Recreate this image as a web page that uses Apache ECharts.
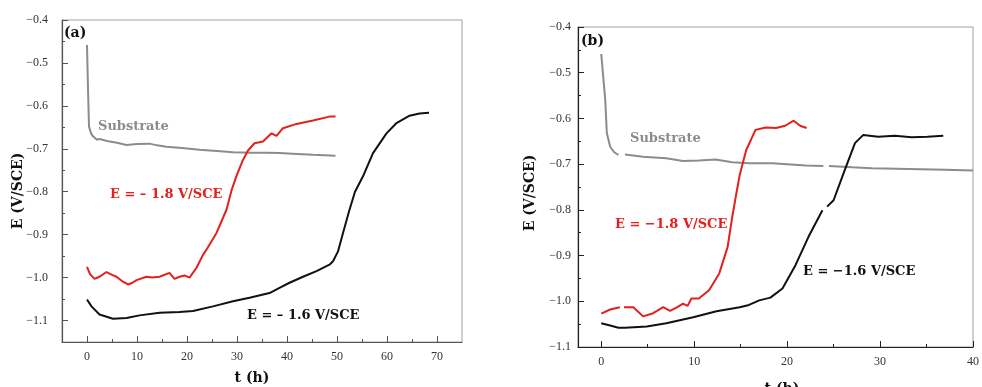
<!DOCTYPE html>
<html>
<head>
<meta charset="utf-8">
<script src="https://cdn.jsdelivr.net/npm/echarts@6/dist/echarts.min.js"></script>
<style>html,body{margin:0;padding:0;background:#fff;}#c{width:982px;height:387px;}</style>
</head>
<body>
<div id="c"></div>
<script>
// ---------- Panel (a) data: [t (h), E (V/SCE)] ----------
var subA = [[0,-0.458],[0.2,-0.56],[0.4,-0.648],[0.8,-0.664],[1.2,-0.671],[2,-0.679],[2.5,-0.677],[4,-0.682],[6,-0.686],[7.9,-0.691],[10,-0.689],[12.5,-0.688],[14,-0.692],[15.9,-0.695],[19,-0.698],[22.5,-0.702],[26,-0.705],[29.2,-0.708],[33,-0.709],[36,-0.709],[38.5,-0.710],[42,-0.712],[45.2,-0.714],[47.5,-0.715],[49.7,-0.716]];
var redA = [[0,-0.975],[0.6,-0.992],[1.5,-1.003],[2.5,-0.998],[3.9,-0.987],[4.9,-0.993],[5.9,-0.998],[7,-1.008],[8.2,-1.016],[9.1,-1.012],[9.9,-1.006],[11.9,-0.998],[13,-1.0],[14.5,-0.998],[16.5,-0.989],[17.5,-1.003],[18.5,-0.998],[19.5,-0.995],[20.5,-1.0],[21.9,-0.977],[23.2,-0.947],[24.1,-0.931],[25.9,-0.896],[27.9,-0.842],[28.9,-0.797],[30,-0.76],[31.2,-0.726],[32.2,-0.704],[33.5,-0.687],[35.2,-0.683],[36.9,-0.664],[37.9,-0.670],[39.2,-0.652],[41.9,-0.642],[45.2,-0.634],[48.5,-0.625],[49.7,-0.625]];
var blackA = [[0,-1.051],[0.9,-1.067],[2.5,-1.086],[5.2,-1.096],[7.9,-1.094],[10.5,-1.088],[14.5,-1.082],[18.5,-1.080],[21.2,-1.078],[25.2,-1.067],[29.2,-1.055],[32.5,-1.047],[36.5,-1.036],[38.5,-1.024],[40.5,-1.012],[43.2,-0.998],[45.9,-0.985],[48.5,-0.970],[49.2,-0.962],[50.2,-0.939],[51.2,-0.896],[52.5,-0.842],[53.6,-0.800],[55.2,-0.764],[57.2,-0.710],[59.9,-0.664],[61.9,-0.640],[64.5,-0.623],[66.5,-0.618],[68.4,-0.616]];
var xTicksA = [0,10,20,30,40,50,60,70];
var xMinorA = [5,15,25,35,45,55,65];
var yTicksA = [-1.1,-1.0,-0.9,-0.8,-0.7,-0.6,-0.5,-0.4];
var yMinorA = [-1.05,-0.95,-0.85,-0.75,-0.65,-0.55,-0.45];

// ---------- Panel (b) data ----------
var subB = [[0,-0.459],[0.43,-0.559],[0.6,-0.632],[0.96,-0.662],[1.4,-0.674],[1.85,-0.680],[2.1,null],[2.56,-0.679],[4.5,-0.684],[7.0,-0.687],[8.8,-0.693],[10.5,-0.692],[12.3,-0.690],[14.1,-0.696],[15.9,-0.698],[18.4,-0.698],[22,-0.703],[23.9,-0.704],[24.2,null],[24.5,-0.704],[27,-0.707],[29.1,-0.709],[34.4,-0.711],[37,-0.712],[40,-0.714]];
var redB = [[0,-1.027],[0.96,-1.018],[2.0,-1.013],[2.2,null],[2.45,-1.013],[3.46,-1.013],[4.5,-1.033],[5.6,-1.026],[6.66,-1.013],[7.4,-1.021],[8.1,-1.014],[8.8,-1.005],[9.3,-1.010],[9.7,-0.994],[10.5,-0.994],[11.6,-0.976],[12.7,-0.939],[13.6,-0.881],[14.1,-0.815],[14.6,-0.757],[14.9,-0.724],[15.6,-0.669],[16.6,-0.625],[17.7,-0.620],[18.8,-0.621],[19.8,-0.616],[20.7,-0.605],[21.4,-0.616],[22.1,-0.621]];
var blackB = [[0,-1.048],[0.96,-1.053],[1.85,-1.058],[2.56,-1.058],[4.9,-1.055],[7.0,-1.048],[9.9,-1.035],[12.4,-1.022],[14.9,-1.013],[15.9,-1.008],[17,-0.998],[18.2,-0.992],[19.5,-0.972],[20.9,-0.921],[22.3,-0.859],[23.8,-0.801],[24.05,null],[24.3,-0.793],[25.0,-0.779],[26.2,-0.713],[27.3,-0.654],[28.2,-0.636],[29.8,-0.640],[31.6,-0.638],[33.4,-0.641],[35.1,-0.640],[36.8,-0.638]];
var xTicksB = [0,10,20,30,40];
var xMinorB = [5,15,25,35];
var yTicksB = [-1.1,-1.0,-0.9,-0.8,-0.7,-0.6,-0.5,-0.4];
var yMinorB = [-1.05,-0.95,-0.85,-0.75,-0.65,-0.55,-0.45];

var GREY = '#8c8c8c', RED = '#e3201b', BLACK = '#111111';
var SERIF = '"Liberation Serif", "Times New Roman", serif';
var BOLD = 'bold 13px "DejaVu Serif", serif';
var TITLE = 'bold 14px "DejaVu Serif", serif';

function fmtY(v){ return (v < 0 ? '\u2212' : '') + Math.abs(v).toFixed(1); }

function mainX(grid, min, max, ticks, lineColor, margin){
  return {gridIndex:grid, type:'value', min:min, max:max, interval:5,
    axisLine:{show:true, onZero:false, lineStyle:{color:lineColor, width:1.2}},
    axisTick:{show:true, inside:true, length:6, customValues:ticks, lineStyle:{color:lineColor}},
    axisLabel:{show:true, customValues:ticks, margin:margin, color:'#333', fontFamily:SERIF, fontSize:12},
    splitLine:{show:false}};
}
function minorX(grid, min, max, ticks, lineColor){
  return {gridIndex:grid, type:'value', min:min, max:max, interval:5, position:'bottom',
    axisLine:{show:false, onZero:false},
    axisTick:{show:true, inside:true, length:3, customValues:ticks, lineStyle:{color:lineColor}},
    axisLabel:{show:false}, splitLine:{show:false}};
}
function mainY(grid, min, max, ticks, lineColor, margin){
  return {gridIndex:grid, type:'value', min:min, max:max, interval:0.05,
    axisLine:{show:true, onZero:false, lineStyle:{color:lineColor, width:1.2}},
    axisTick:{show:true, inside:true, length:6, customValues:ticks, lineStyle:{color:lineColor}},
    axisLabel:{show:true, customValues:ticks, formatter:fmtY, margin:margin, color:'#333', fontFamily:SERIF, fontSize:12},
    splitLine:{show:false}};
}
function minorY(grid, min, max, ticks, lineColor){
  return {gridIndex:grid, type:'value', min:min, max:max, interval:0.05, position:'left',
    axisLine:{show:false, onZero:false},
    axisTick:{show:true, inside:true, length:3, customValues:ticks, lineStyle:{color:lineColor}},
    axisLabel:{show:false}, splitLine:{show:false}};
}
function line(x, y, data, color, w){
  return {type:'line', xAxisIndex:x, yAxisIndex:y, data:data, showSymbol:false, symbol:'none',
    connectNulls:false, smooth:false, animation:false,
    lineStyle:{color:color, width:w}};
}
function txt(s, x, y, color, font, extra){
  var el = {type:'text', x:x, y:y, style:{text:s, fill:color, font:font, textVerticalAlign:'middle'}};
  if (extra) for (var k in extra) el[k] = extra[k];
  return el;
}

var chart = echarts.init(document.getElementById('c'), null, {renderer:'canvas'});
chart.setOption({
  backgroundColor:'#fff',
  animation:false,
  grid:[
    {left:62, top:20, width:400, height:322, show:true, borderColor:'#a0a0a0', borderWidth:1},
    {left:578, top:27, width:396, height:320, show:true, borderColor:'#a0a0a0', borderWidth:1}
  ],
  xAxis:[
    mainX(0, -5, 75, xTicksA, '#555', 9),
    mainX(1, -2.5, 40, xTicksB, '#222', 9),
    minorX(0, -5, 75, xMinorA, '#555'),
    minorX(1, -2.5, 40, xMinorB, '#222')
  ],
  yAxis:[
    mainY(0, -1.15, -0.4, yTicksA, '#555', 14),
    mainY(1, -1.1, -0.4, yTicksB, '#222', 7),
    minorY(0, -1.15, -0.4, yMinorA, '#555'),
    minorY(1, -1.1, -0.4, yMinorB, '#222')
  ],
  series:[
    line(0,0,subA,GREY,2),
    line(0,0,redA,RED,2),
    line(0,0,blackA,BLACK,2),
    line(1,1,subB,GREY,2),
    line(1,1,redB,RED,2),
    line(1,1,blackB,BLACK,2)
  ],
  graphic:[
    txt('(a)', 64, 33, '#111', TITLE),
    txt('Substrate', 98, 127, GREY, BOLD),
    txt('E = \u2013 1.8 V/SCE', 110, 195, RED, BOLD),
    txt('E = \u2013 1.6 V/SCE', 247, 316, '#111', BOLD),
    txt('(b)', 581, 41, '#111', TITLE),
    txt('Substrate', 630, 139, GREY, BOLD),
    txt('E = \u22121.8 V/SCE', 615, 225, RED, BOLD),
    txt('E = \u22121.6 V/SCE', 803, 272, '#111', BOLD),
    {type:'text', x:18, y:191, rotation:Math.PI/2, style:{text:'E (V/SCE)', fill:'#111', font:TITLE, textAlign:'center', textVerticalAlign:'middle'}},
    {type:'text', x:530, y:193, rotation:Math.PI/2, style:{text:'E (V/SCE)', fill:'#111', font:TITLE, textAlign:'center', textVerticalAlign:'middle'}},
    {type:'text', x:252, y:378, style:{text:'t (h)', fill:'#111', font:TITLE, textAlign:'center', textVerticalAlign:'middle'}},
    {type:'text', x:782, y:389, style:{text:'t (h)', fill:'#111', font:TITLE, textAlign:'center', textVerticalAlign:'middle'}}
  ]
});
</script>
</body>
</html>
